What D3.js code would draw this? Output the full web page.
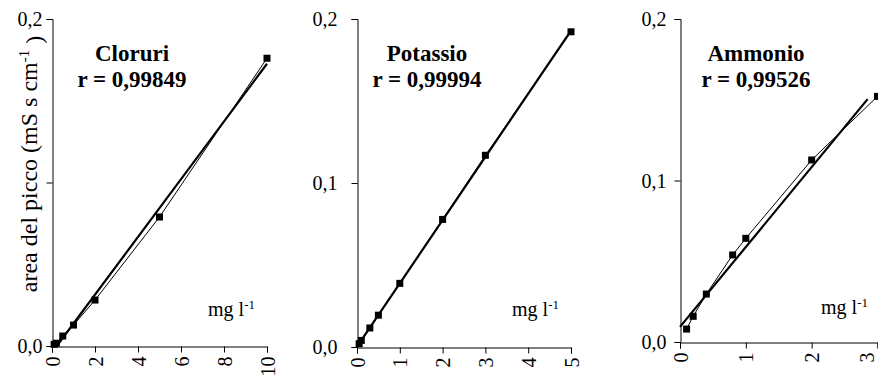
<!DOCTYPE html>
<html>
<head>
<meta charset="utf-8">
<script src="https://cdn.jsdelivr.net/npm/d3@7/dist/d3.min.js"></script>
<style>
  html, body { margin: 0; padding: 0; background: #fff; }
  svg { display: block; }
</style>
</head>
<body>
<svg id="chart" width="878" height="375"></svg>
<script>
// Calibration data (concentration in mg/l, peak area in mS s/cm)
const clX = [0.1, 0.2, 0.5, 1, 2, 5, 10];
const clY = [0.001, 0.0017, 0.0061, 0.0128, 0.0281, 0.0789, 0.176];
const kX  = [0.05, 0.1, 0.3, 0.5, 1, 2, 3, 5];
const kY  = [0.002, 0.004, 0.0116, 0.0194, 0.0388, 0.0778, 0.1169, 0.1922];
const nhX = [0.1, 0.2, 0.4, 0.8, 1, 2, 3];
const nhY = [0.008, 0.0159, 0.0297, 0.0539, 0.0642, 0.1127, 0.1521];

const titles  = ["Cloruri", "Potassio", "Ammonio"];
const rLabels = ["r = 0,99849", "r = 0,99994", "r = 0,99526"];
const xTicks  = [[0, 2, 4, 6, 8, 10], [0, 1, 2, 3, 4, 5], [0, 1, 2, 3]];
const xMax    = [10, 5, 3];
const yTicks  = [0, 0.1, 0.2];
const fitEnd  = [10, 5, 2.85];
const unitLabel = "mg l";

const SERIF = '"Liberation Serif", "Times New Roman", serif';

// Panel frames (pixels)
const frames = [
  { left: 52,  right: 267,   top: 19, bottom: 346, yPad: 4,  showMid: false, unit: [208, 316], title: 132 },
  { left: 357, right: 571,   top: 19, bottom: 347, yPad: 14, showMid: true,  unit: [512, 316], title: 427 },
  { left: 680, right: 877.5, top: 19, bottom: 342, yPad: 8,  showMid: true,  unit: [821, 314], title: 756 }
];

const series = [
  clX.map((x, i) => ({ x, y: clY[i] })),
  kX.map((x, i)  => ({ x, y: kY[i] })),
  nhX.map((x, i) => ({ x, y: nhY[i] }))
];

// Least-squares straight line through a series
function linearFit(pts) {
  const mx = d3.mean(pts, d => d.x), my = d3.mean(pts, d => d.y);
  const sxy = d3.sum(pts, d => (d.x - mx) * (d.y - my));
  const sxx = d3.sum(pts, d => (d.x - mx) ** 2);
  const m = sxy / sxx;
  return { m, b: my - m * mx };
}

const svg = d3.select("#chart");
const fmt = v => d3.format(".1f")(v).replace(".", ",");

frames.forEach((f, i) => {
  const x = d3.scaleLinear().domain([0, xMax[i]]).range([f.left, f.right]);
  const y = d3.scaleLinear().domain([0, 0.2]).range([f.bottom, f.top]);
  const g = svg.append("g");

  // y axis
  const yAxis = d3.axisLeft(y).tickValues(yTicks).tickSize(6).tickPadding(f.yPad)
    .tickFormat(v => (!f.showMid && v === 0.1) ? "" : fmt(v));
  const ya = g.append("g").attr("transform", `translate(${Math.round(f.left) + 0.5},0)`).call(yAxis);
  ya.attr("font-family", null).attr("font-size", null);
  ya.selectAll("text").style("font-family", SERIF).style("font-size", "20px").attr("dy", "0.34em");

  // x axis with rotated labels (the last one kept inside the page)
  const xAxis = d3.axisBottom(x).tickValues(xTicks[i]).tickSize(6).tickFormat(d3.format("d"));
  const xa = g.append("g").attr("transform", `translate(0,${Math.round(f.bottom) + 0.5})`).call(xAxis);
  xa.attr("font-family", null).attr("font-size", null);
  xa.selectAll("text")
    .style("font-family", SERIF)
    .style("font-size", "20px")
    .attr("text-anchor", "end")
    .attr("y", 0).attr("dy", "0.35em")
    .attr("transform", d => `translate(${Math.min(0, 866 - x(d))},10) rotate(-90)`);
  g.selectAll(".domain, .tick line").attr("stroke", "#000").attr("stroke-width", 1);

  // regression line
  const pts = series[i];
  const fit = linearFit(pts);
  const x0 = Math.max(0, -fit.b / fit.m);
  const fitPts = [x0, fitEnd[i]].map(v => ({ x: v, y: fit.m * v + fit.b }));
  const line = d3.line().x(d => x(d.x)).y(d => y(d.y));
  g.append("path").datum(fitPts).attr("d", line)
    .attr("fill", "none").attr("stroke", "#000").attr("stroke-width", 2.2);

  // measured points joined by a thin line
  g.append("path").datum(pts).attr("d", line)
    .attr("fill", "none").attr("stroke", "#000").attr("stroke-width", 1);
  g.selectAll("rect.pt").data(pts).join("rect")
    .attr("class", "pt")
    .attr("x", d => x(d.x) - 3.5).attr("y", d => y(d.y) - 3.5)
    .attr("width", 7).attr("height", 7).attr("fill", "#000");

  // titles
  g.append("text").attr("x", f.title).attr("y", 61).attr("text-anchor", "middle")
    .style("font-family", SERIF).style("font-size", "23px").style("font-weight", "bold").text(titles[i]);
  g.append("text").attr("x", f.title).attr("y", 87).attr("text-anchor", "middle")
    .style("font-family", SERIF).style("font-size", "23px").style("font-weight", "bold").text(rLabels[i]);

  // unit label
  const u = g.append("text").attr("x", f.unit[0]).attr("y", f.unit[1])
    .style("font-family", SERIF).style("font-size", "20px");
  u.append("tspan").text(unitLabel);
  u.append("tspan").attr("dy", "-0.55em").style("font-size", "13px").text("-1");
});

// y axis title on the first panel
const yt = svg.append("text")
  .attr("transform", "translate(37,164) rotate(-90)")
  .attr("text-anchor", "middle")
  .style("font-family", SERIF)
  .style("font-size", "24px");
yt.append("tspan").text("area del picco (mS s cm");
yt.append("tspan").attr("dy", "-0.55em").style("font-size", "15px").text("-1");
yt.append("tspan").attr("dy", "0.55em").text(" )");
</script>
</body>
</html>
